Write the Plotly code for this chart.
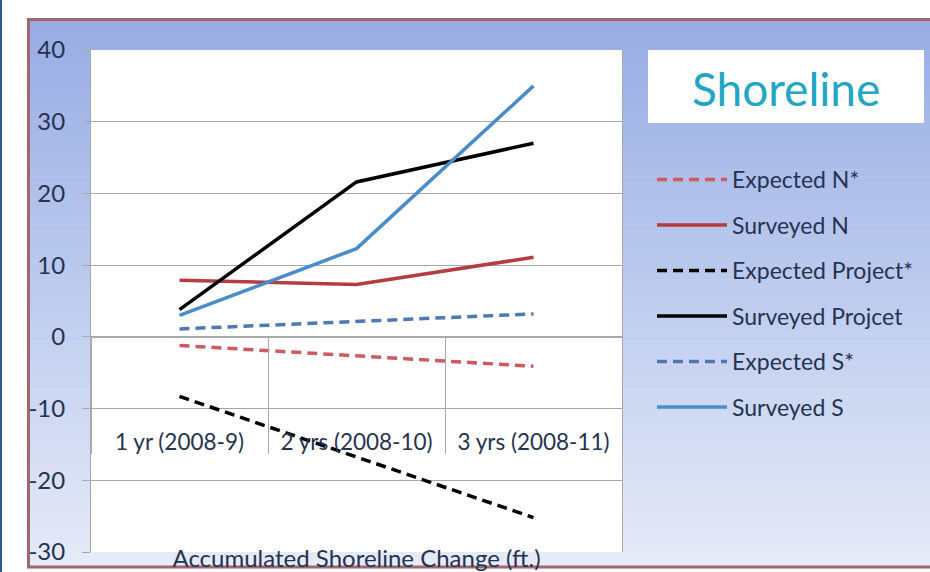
import plotly.graph_objects as go

# ---- data -------------------------------------------------------------
categories = ["1 yr (2008-9)", "2 yrs (2008-10)", "3 yrs (2008-11)"]
expected_n = [-1.2, -2.7, -4.1]
surveyed_n = [7.9, 7.3, 11.1]
expected_project = [-8.3, -16.8, -25.2]
surveyed_project = [3.8, 21.6, 27.0]
expected_s = [1.1, 2.2, 3.2]
surveyed_s = [3.0, 12.3, 35.0]

series_names = ["Expected N*", "Surveyed N", "Expected Project*",
                "Surveyed Projcet", "Expected S*", "Surveyed S"]
series_values = [expected_n, surveyed_n, expected_project,
                 surveyed_project, expected_s, surveyed_s]
series_colors = ["#cc5a60", "#b53d3f", "#000000", "#000000", "#4f77b6", "#4a8cc9"]
series_dash = ["10px,6px", "solid", "10px,6px", "solid", "10px,6px", "solid"]

y_ticks = [40, 30, 20, 10, 0, -10, -20, -30]
y_tick_labels = ["40", "30", "20", "10", "0", "-10", "-20", "-30"]

# ---- geometry ----------------------------------------------------------
W, H = 930, 572
ML, MR, MT, MB = 91, 308, 50, 20
PW, PH = W - ML - MR, H - MT - MB


def px_x(p):
    return (p - ML) / PW


def px_y(p):
    return (H - MB - p) / PH


TEXT = "#243352"
GRID = "#a8a8a8"
FONT = "Lato"

fig = go.Figure()

for name, vals, col, dash in zip(series_names, series_values, series_colors, series_dash):
    fig.add_trace(go.Scatter(
        x=categories, y=vals, name=name, mode="lines",
        line=dict(color=col, width=3.5, dash=dash),
        legendgroup=name,
    ))

# carrier trace for the category-separator axis
fig.add_trace(go.Scatter(x=categories, y=[None] * len(categories), xaxis="x2",
                         showlegend=False, hoverinfo="skip", mode="lines"))

# ---- background gradient, plot area, frame -----------------------------
shapes = []
top, bot, left, right = 18, 568, 27, 930
stops = [(18, (152, 172, 228)), (300, (190, 204, 238)), (568, (231, 235, 248))]


def grad(p):
    for (y0, c0), (y1, c1) in zip(stops[:-1], stops[1:]):
        if y0 <= p <= y1:
            t = (p - y0) / (y1 - y0)
            return tuple(round(a + (b - a) * t) for a, b in zip(c0, c1))
    return stops[-1][1]


n = 80
step = (bot - top) / n
for i in range(n):
    y0 = top + i * step
    r, g, b = grad(y0 + step / 2)
    shapes.append(dict(type="rect", xref="paper", yref="paper", layer="below",
                       x0=px_x(left), x1=px_x(right), y0=px_y(y0 + step + 0.6), y1=px_y(y0),
                       line=dict(width=0), fillcolor=f"rgb({r},{g},{b})"))
# white plotting area
shapes.append(dict(type="rect", xref="paper", yref="paper", layer="below",
                   x0=0, x1=1, y0=0, y1=1, line=dict(width=0), fillcolor="white"))
# title box
shapes.append(dict(type="rect", xref="paper", yref="paper", layer="below",
                   x0=px_x(648), x1=px_x(924), y0=px_y(123), y1=px_y(50),
                   line=dict(width=0), fillcolor="white"))
# outer frame
shapes.append(dict(type="rect", xref="paper", yref="paper", layer="above",
                   x0=px_x(28.5), x1=px_x(935), y0=px_y(567), y1=px_y(19.5),
                   line=dict(color="#a0676c", width=3), fillcolor="rgba(0,0,0,0)"))
shapes.append(dict(type="rect", xref="paper", yref="paper", layer="above",
                   x0=px_x(0), x1=px_x(2), y0=px_y(H), y1=px_y(0),
                   line=dict(width=0), fillcolor="#2f5b8c"))

annotations = [dict(text="Shoreline", xref="paper", yref="paper",
                    x=px_x(786), y=px_y(88), xanchor="center", yanchor="middle",
                    showarrow=False, font=dict(family=FONT, size=46, color="#22a6c6"))]

zero_pos = (0 - (-30)) / (40 - (-30))

fig.update_layout(
    width=W, height=H,
    margin=dict(l=ML, r=MR, t=MT, b=MB, autoexpand=False),
    paper_bgcolor="white", plot_bgcolor="rgba(0,0,0,0)",
    font=dict(family=FONT, color=TEXT),
    shapes=shapes, annotations=annotations,
    showlegend=True,
    legend=dict(x=px_x(652), y=px_y(158), xanchor="left", yanchor="top",
                bgcolor="rgba(0,0,0,0)", font=dict(size=23, color=TEXT, family=FONT),
                itemwidth=70, tracegroupgap=12.6, traceorder="grouped"),
    xaxis=dict(type="category", categoryarray=categories, range=[-0.5, 2.5],
               anchor="free", position=zero_pos,
               showline=True, linecolor=GRID, linewidth=1,
               showgrid=False, zeroline=False, ticks="",
               tickfont=dict(size=22.5, color=TEXT, family=FONT),
               ticklabelstandoff=85,
               title=dict(text="Accumulated Shoreline Change (ft.)",
                          font=dict(size=24, color=TEXT, family=FONT), standoff=97)),
    xaxis2=dict(type="category", categoryarray=categories, range=[-0.5, 2.5],
                overlaying="x", anchor="free", position=zero_pos,
                showline=False, showgrid=False, zeroline=False,
                showticklabels=False, ticks="outside", ticklen=116,
                tickcolor=GRID, tickwidth=1, tickson="boundaries"),
    yaxis=dict(range=[-30, 40], tickvals=y_ticks, ticktext=y_tick_labels,
               showgrid=True, gridcolor=GRID,
               gridwidth=1, zeroline=True, zerolinecolor=GRID, zerolinewidth=1,
               showline=True, linecolor=GRID, linewidth=1, mirror=True,
               ticks="outside", ticklen=8, tickcolor=GRID,
               ticklabelstandoff=12,
               tickfont=dict(size=24, color=TEXT, family=FONT)),
)

fig.write_html("out.html")
